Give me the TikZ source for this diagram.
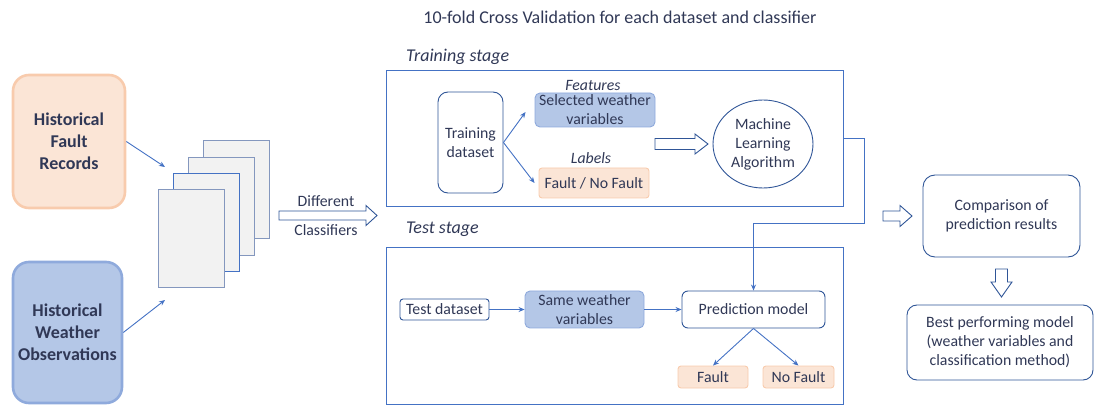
\documentclass[tikz,border=0pt]{standalone}
\usepackage{fontspec}
\setmainfont{Carlito}
\usetikzlibrary{shapes.geometric,calc,arrows.meta}
\definecolor{txt}{RGB}{48,56,86}
\definecolor{peach}{RGB}{251,229,214}
\definecolor{peachline}{RGB}{248,203,173}
\definecolor{lblue}{RGB}{180,199,231}
\definecolor{lblueline}{RGB}{143,170,220}
\definecolor{navy}{RGB}{47,85,151}
\definecolor{acc}{RGB}{68,114,196}
\definecolor{pagegray}{RGB}{242,242,242}
\definecolor{pageline}{RGB}{132,151,190}
\newcommand\bodyfont{\fontsize{15.8}{19}\selectfont}
\newcommand\bigfont{\fontsize{18}{22}\selectfont}
\newcommand\hollowR[6]{\draw[hollow] (#1,#3-#4) -- (#6,#3-#4) -- (#6,#3-#5) -- (#2,#3) -- (#6,#3+#5) -- (#6,#3+#4) -- (#1,#3+#4) -- cycle;}
\tikzset{
  base/.style={inner sep=0pt, align=center, text=txt, font=\bodyfont},
  frame/.style={base, draw=acc, line width=0.9pt},
  rbox/.style={base, draw=navy, line width=0.9pt, fill=white},
  bluebox/.style={base, fill=lblue, draw=lblueline, line width=0.9pt, rounded corners=5pt},
  peachbox/.style={base, fill=peach, draw=peachline, line width=0.9pt, rounded corners=3pt},
  source/.style={base, font=\bigfont\bfseries, line width=2.6pt, rounded corners=16pt},
  pagebox/.style={draw=pageline, fill=pagegray, line width=0.9pt, minimum width=66pt, minimum height=98pt, inner sep=0pt},
  lbl/.style={inner sep=0pt, text=txt},
  conn/.style={draw=acc, line width=0.9pt, -{Stealth[length=6pt,width=5pt]}},
  hollow/.style={draw=navy, fill=white, line width=0.9pt, line join=miter},
}
\begin{document}
\begin{tikzpicture}[x=1pt,y=-1pt]
\useasboundingbox (0,0) rectangle (1096,406);

% title
\node[lbl, font=\bigfont] (title) at (620,17) {10-fold Cross Validation for each dataset and classifier};

% sources
\node[source, fill=peach, draw=peachline, minimum width=112pt, minimum height=133pt] (fault) at (69,141.5) {Historical\\Fault\\Records};
\node[source, fill=lblue, draw=lblueline, minimum width=109pt, minimum height=141pt] (weather) at (67.5,332.5) {Historical\\Weather\\Observations};

% page stack
\node[pagebox] (p4) at (236,189) {};
\node[pagebox] (p3) at (221,206) {};
\node[pagebox, draw=acc] (p2) at (206,222) {};
\node[pagebox] (p1) at (191,238) {};

\coordinate (ftip) at (165,167);
\coordinate (wtip) at (165,300);
\draw[conn] (fault.east) -- (ftip);
\draw[conn] (weather.east) -- (wtip);

% big hollow arrow
\hollowR{279}{377}{215.5}{4.5}{10}{366}
\node[lbl, font=\bodyfont] (diff) at (326,201) {Different};
\node[lbl, font=\bodyfont] (cls) at (326,230) {Classifiers};

% training stage
\node[lbl, font=\bigfont\itshape, anchor=west] (trainlbl) at (406,57) {Training stage};
\node[frame, minimum width=457pt, minimum height=136pt] (train) at (614.5,138) {};
\node[rbox, rounded corners=10pt, minimum width=65pt, minimum height=101pt] (tds) at (470.5,142.5) {Training\\dataset};
\node[bluebox, minimum width=120pt, minimum height=34pt] (feat) at (595,110) {Selected weather\\variables};
\node[lbl, font=\bodyfont\itshape] (featlbl) at (593,85) {Features};
\node[lbl, font=\bodyfont\itshape] (labellbl) at (591,158) {Labels};
\node[peachbox, minimum width=110pt, minimum height=30pt] (lab) at (594,183) {Fault / No Fault};
\coordinate (feattip) at ($(feat.west)+(-9,2)$);
\coordinate (labtip) at ($(lab.west)+(-4,0)$);
\draw[conn] (tds.east) -- (feattip);
\draw[conn] (tds.east) -- (labtip);
\hollowR{655}{708}{144}{5.5}{10}{695}
\node[base, draw=navy, line width=0.9pt, ellipse, minimum width=100pt, minimum height=88pt] (mla) at (763,144) {Machine\\Learning\\Algorithm};

% test stage
\node[lbl, font=\bigfont\itshape, anchor=west] (testlbl) at (406,229) {Test stage};
\node[frame, minimum width=457pt, minimum height=157pt] (test) at (614.5,325.5) {};
\node[rbox, rounded corners=3pt, minimum width=89pt, minimum height=21pt] (tsd) at (444.5,309.5) {Test dataset};
\node[bluebox, minimum width=119pt, minimum height=37pt] (swv) at (584.5,309.5) {Same weather\\variables};
\node[rbox, rounded corners=6pt, minimum width=143pt, minimum height=37pt] (pm) at (753.5,309.5) {Prediction model};
\node[peachbox, minimum width=70pt, minimum height=22pt] (f2) at (713,377) {Fault};
\node[peachbox, minimum width=71pt, minimum height=22pt] (nf) at (798.5,377) {No Fault};
\draw[conn] (tsd.east) -- (swv.west);
\draw[conn] (swv.east) -- (pm.west);
\draw[conn] (pm.south) -- (f2.north);
\draw[conn] (pm.south) -- (nf.north);

% feedback line
\coordinate (bend) at (864,223);
\draw[conn] (train.east) -| (bend) -| (pm.north);

% right side
\hollowR{883}{912}{216}{5}{10.5}{900}
\node[rbox, rounded corners=12pt, minimum width=157pt, minimum height=82pt] (cmp) at (1001.5,216) {Comparison of\\prediction results};
\draw[hollow] (995.5,269) -- (1007.5,269) -- (1007.5,282) -- (1012,282) -- (1001.5,297) -- (991,282) -- (995.5,282) -- cycle;
\node[rbox, rounded corners=10pt, minimum width=186pt, minimum height=75pt] (best) at (1000,342.5) {Best performing model\\(weather variables and\\classification method)};
\end{tikzpicture}
\end{document}
